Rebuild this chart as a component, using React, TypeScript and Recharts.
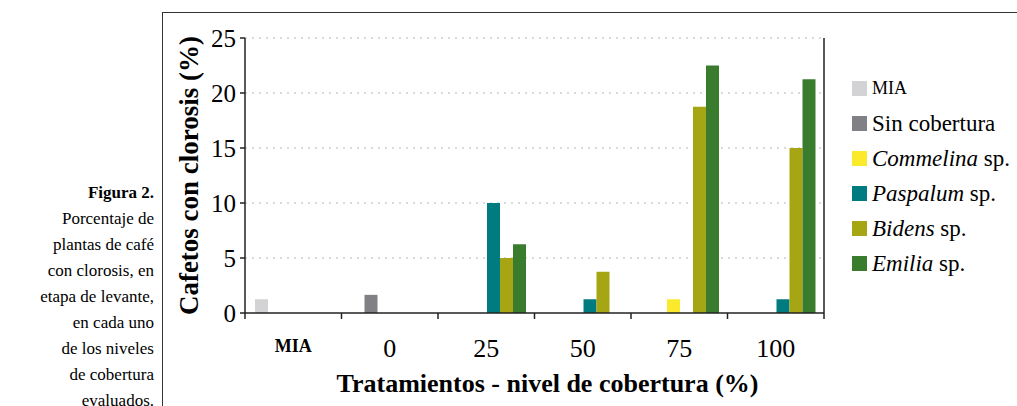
import { Bar, BarChart, CartesianGrid, Legend, XAxis, YAxis } from "recharts";

const categories = ["MIA", "0", "25", "50", "75", "100"];
const mia = [1.25, 0, 0, 0, 0, 0];
const sinCobertura = [0, 1.65, 0, 0, 0, 0];
const commelina = [0, 0, 0, 0, 1.25, 0];
const paspalum = [0, 0, 10, 1.25, 0, 1.25];
const bidens = [0, 0, 5, 3.75, 18.75, 15];
const emilia = [0, 0, 6.25, 0, 22.5, 21.25];
const yTicks = [0, 5, 10, 15, 20, 25];

const series = [
  { key: "mia", genus: "", rest: "MIA", color: "#d3d3d5", size: 18 },
  { key: "sin", genus: "", rest: "Sin cobertura", color: "#818185", size: 23 },
  { key: "commelina", genus: "Commelina", rest: " sp.", color: "#fbe92c", size: 23 },
  { key: "paspalum", genus: "Paspalum", rest: " sp.", color: "#007b80", size: 23 },
  { key: "bidens", genus: "Bidens", rest: " sp.", color: "#a6a513", size: 23 },
  { key: "emilia", genus: "Emilia", rest: " sp.", color: "#3a7c2e", size: 23 },
];

const data = categories.map((name, i) => ({
  name,
  mia: mia[i],
  sin: sinCobertura[i],
  commelina: commelina[i],
  paspalum: paspalum[i],
  bidens: bidens[i],
  emilia: emilia[i],
}));

const serif = "'Liberation Serif', 'Times New Roman', serif";

const caption = [
  "Porcentaje de",
  "plantas de café",
  "con clorosis, en",
  "etapa de levante,",
  "en cada uno",
  "de los niveles",
  "de cobertura",
  "evaluados.",
];

// category label plus the tick marks on the category boundaries
function CategoryTick(props: any) {
  const { x, y, payload, index, visibleTicksCount, width } = props;
  const half = payload.offset ?? width / visibleTicksCount / 2;
  const isMia = payload.value === "MIA";
  const isLast = index === visibleTicksCount - 1;
  return (
    <g>
      <line x1={x - half} x2={x - half} y1={y} y2={y + 6} stroke="#222" strokeWidth={1.5} />
      {isLast && <line x1={x + half} x2={x + half} y1={y} y2={y + 6} stroke="#222" strokeWidth={1.5} />}
      <text
        x={x}
        y={y + (isMia ? 39 : 44)}
        textAnchor="middle"
        fontFamily={serif}
        fontSize={isMia ? 18 : 26}
        fontWeight={isMia ? "bold" : "normal"}
        fill="#000"
      >
        {payload.value}
      </text>
    </g>
  );
}

function LegendBox() {
  return (
    <div style={{ fontFamily: serif, color: "#000" }}>
      {series.map((s) => (
        <div key={s.key} style={{ display: "flex", alignItems: "center", height: 35 }}>
          <span style={{ width: 15, height: 15, background: s.color, marginRight: 5, flex: "none" }} />
          <span style={{ fontFamily: serif, fontSize: s.size, whiteSpace: "nowrap" }}>
            {s.genus && <i style={{ fontFamily: serif }}>{s.genus}</i>}
            {s.rest}
          </span>
        </div>
      ))}
    </div>
  );
}

const noLabel = () => <g />;

export default function App() {
  return (
    <div style={{ position: "absolute", left: 0, top: 0, width: 1017, height: 406, overflow: "hidden", background: "#fff" }}>
      <div
        style={{
          position: "absolute",
          left: 162,
          top: 12,
          width: 900,
          height: 450,
          borderLeft: "1.5px solid #333",
          borderTop: "1.5px solid #333",
        }}
      />
      <div
        style={{
          position: "absolute",
          right: 1017 - 154,
          top: 180,
          textAlign: "right",
          fontFamily: serif,
          fontSize: 17,
          lineHeight: "26px",
          color: "#000",
          whiteSpace: "nowrap",
        }}
      >
        <div style={{ fontWeight: "bold" }}>Figura 2.</div>
        {caption.map((line) => (
          <div key={line}>{line}</div>
        ))}
      </div>
      <div style={{ position: "absolute", left: 0, top: 0 }}>
        <BarChart
          width={1017}
          height={406}
          data={data}
          margin={{ top: 38, right: 183, bottom: 0, left: 185 }}
          barGap={0}
          barCategoryGap={10}
        >
          <CartesianGrid
            yAxisId="left"
            vertical={false}
            stroke="#b5b5b5"
            strokeDasharray="2 5"
            horizontalValues={[5, 10, 15, 20, 25]}
          />
          <XAxis
            dataKey="name"
            height={93}
            axisLine={{ stroke: "#222", strokeWidth: 1.5 }}
            tickLine={false}
            tickSize={0}
            tickMargin={0}
            tick={<CategoryTick />}
            interval={0}
            label={{
              value: "Tratamientos - nivel de cobertura (%)",
              position: "center",
              dx: 13,
              dy: 23,
              fontFamily: serif,
              fontSize: 26,
              fontWeight: "bold",
              fill: "#000",
            }}
          />
          <YAxis
            yAxisId="left"
            width={60}
            domain={[0, 25]}
            ticks={yTicks}
            interval={0}
            axisLine={{ stroke: "#222", strokeWidth: 1.5 }}
            tickLine={{ stroke: "#222", strokeWidth: 1.5 }}
            tickSize={5}
            tickMargin={4}
            tick={{ fontFamily: serif, fontSize: 25, fill: "#000" }}
            label={{
              value: "Cafetos con clorosis (%)",
              angle: -90,
              position: "center",
              dx: -27,
              fontFamily: serif,
              fontSize: 27,
              fontWeight: "bold",
              fill: "#000",
            }}
          />
          <YAxis
            yAxisId="right"
            orientation="right"
            width={10}
            domain={[0, 25]}
            ticks={yTicks}
            interval={0}
            axisLine={{ stroke: "#222", strokeWidth: 1.5 }}
            tickLine={{ stroke: "#222", strokeWidth: 1.5 }}
            tickSize={5}
            tick={noLabel}
          />
          <Legend
            layout="vertical"
            align="center"
            verticalAlign="middle"
            content={() => <LegendBox />}
            wrapperStyle={{ left: 852, top: 71, width: 165, height: 215 }}
          />
          {series.map((s) => (
            <Bar key={s.key} yAxisId="left" dataKey={s.key} fill={s.color} isAnimationActive={false} />
          ))}
        </BarChart>
      </div>
    </div>
  );
}
